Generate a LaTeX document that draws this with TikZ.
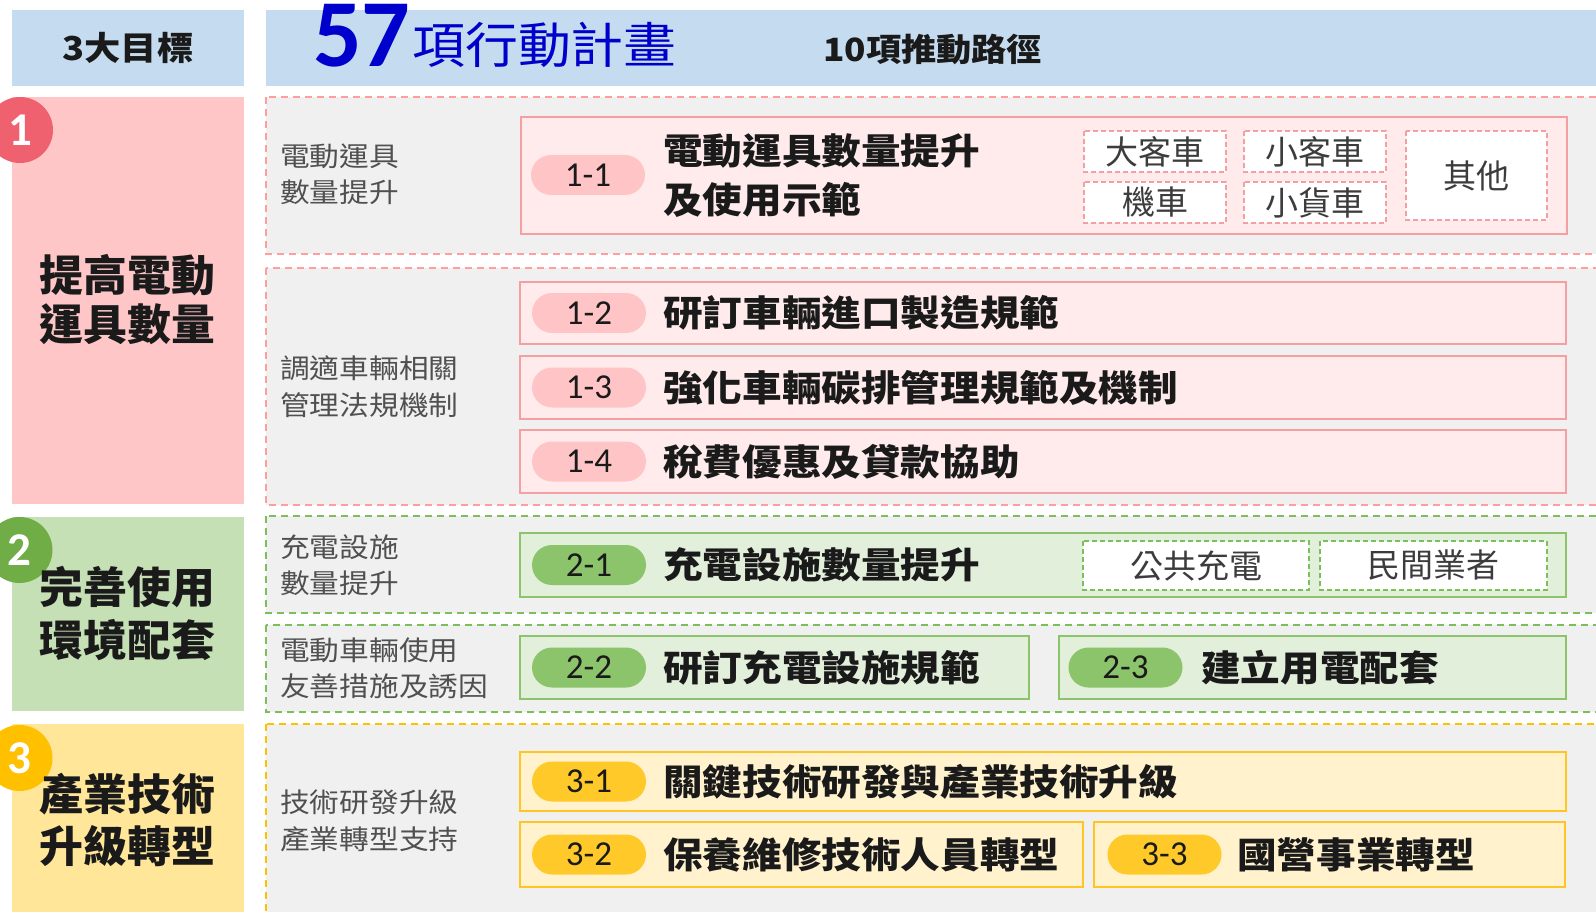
\documentclass[tikz,border=0pt]{standalone}
\usepackage{fontspec}
\setmainfont{Noto Sans CJK TC}
\newfontfamily\lblfont{Noto Sans CJK TC}[FakeStretch=1.1]
\newfontfamily\ttlfont{Noto Sans CJK TC}[FakeStretch=1.1]
\newfontfamily\hdrfont{Noto Sans CJK TC}[FakeStretch=1.1]
\newfontfamily\hdrlfont{Noto Sans CJK TC}[FakeStretch=1.08]
\newfontfamily\goalfont{Noto Sans CJK TC}[FakeStretch=1.02]
\newfontfamily\subfont{Noto Sans CJK TC}
\newfontfamily\bignum{Carlito}
\definecolor{hdrbg}{HTML}{C5DCF0}
\definecolor{pinkgoal}{HTML}{FFC6C8}
\definecolor{pinkcirc}{HTML}{F0616F}
\definecolor{pinkdash}{HTML}{FF9E9E}
\definecolor{pinkin}{HTML}{FFEBEC}
\definecolor{pinkbord}{HTML}{F4A0A2}
\definecolor{pinkpill}{HTML}{FFC5C6}
\definecolor{greengoal}{HTML}{C5E0B4}
\definecolor{greencirc}{HTML}{70AD47}
\definecolor{greendash}{HTML}{7CBF5A}
\definecolor{greenin}{HTML}{E2EFDA}
\definecolor{greenbord}{HTML}{8CC46C}
\definecolor{greenpill}{HTML}{8CC46B}
\definecolor{yelgoal}{HTML}{FFE699}
\definecolor{yelcirc}{HTML}{FFC000}
\definecolor{yeldash}{HTML}{FFC000}
\definecolor{yelin}{HTML}{FFF2CC}
\definecolor{yelbord}{HTML}{FFC525}
\definecolor{yelpill}{HTML}{FFC929}
\definecolor{grayfill}{HTML}{F0F0F0}
\definecolor{labgray}{HTML}{505050}
\definecolor{bluett}{HTML}{0000CC}
\definecolor{txt}{HTML}{1A1A1A}
\tikzset{
  grp/.style={fill=grayfill, dash pattern=on 7pt off 5pt, line width=2pt},
  ibox/.style={line width=2pt},
  subbox/.style={fill=white, dash pattern=on 5pt off 3pt, line width=1.6pt},
  lab/.style={inner sep=0, anchor=west, text=labgray, font=\lblfont\fontsize{27}{27}\selectfont},
  ttl/.style={inner sep=0, anchor=west, text=txt, font=\ttlfont\bfseries\fontsize{36}{36}\selectfont},
  goal/.style={inner sep=0, text=txt, font=\goalfont\bfseries\fontsize{43}{43}\selectfont},
  pill/.style={rounded corners=20pt, minimum width=114pt, minimum height=40pt, inner sep=0, text=txt, font=\bignum\fontsize{35}{35}\selectfont},
  subt/.style={inner sep=0, text=txt!85, font=\subfont\fontsize{33}{33}\selectfont},
  numc/.style={circle, minimum size=66pt, inner sep=0, text=white, font=\bignum\bfseries\fontsize{47}{47}\selectfont}
}
\begin{document}
\begin{tikzpicture}[x=1pt,y=-1pt]
\useasboundingbox (0,0) rectangle (1596,912);
\clip (0,0) rectangle (1596,912);
% header
\fill[hdrbg] (12,10) rectangle (244,86);
\fill[hdrbg] (266,10) rectangle (1620,86);
\node[inner sep=0, text=txt, font=\hdrfont\bfseries\fontsize{33}{33}\selectfont] (h1) at (128,47.5) {3大目標};
\node[anchor=base west, inner sep=0, text=bluett, font=\bignum\bfseries\fontsize{96}{96}\selectfont] (h57) at (313,67) {57};
\node[anchor=west, inner sep=0, text=bluett, font=\hdrlfont\fontsize{49}{49}\selectfont] (h2) at (412,44.5) {項行動計畫};
\node[anchor=west, inner sep=0, text=txt, font=\hdrfont\bfseries\fontsize{32}{32}\selectfont] (h3) at (823,49) {10項推動路徑};
% goals
\fill[pinkgoal] (12,97) rectangle (244,504);
\fill[greengoal] (12,517) rectangle (244,711);
\fill[yelgoal] (12,724) rectangle (244,930);
\node[numc, fill=pinkcirc] (c1) at (20,130) {1};
\node[numc, fill=greencirc] (c2) at (19.5,550) {2};
\node[numc, fill=yelcirc] (c3) at (19.5,758) {3};
\node[goal] (g1a) at (127.5,275) {提高電動};
\node[goal] (g1b) at (127.5,324) {運具數量};
\node[goal] (g2a) at (127.5,587) {完善使用};
\node[goal] (g2b) at (127.5,640) {環境配套};
\node[goal] (g3a) at (127.5,794) {產業技術};
\node[goal] (g3b) at (127.5,846) {升級轉型};
% groups
\draw[grp, draw=pinkdash] (266,97) rectangle (1620,254);
\draw[grp, draw=pinkdash] (266,268) rectangle (1620,505);
\draw[grp, draw=greendash] (266,516) rectangle (1620,613);
\draw[grp, draw=greendash] (266,625) rectangle (1620,712);
\draw[grp, draw=yeldash] (266,724) rectangle (1620,940);
\node[lab] (l1a) at (280,156) {電動運具};
\node[lab] (l1b) at (280,192) {數量提升};
\node[lab] (l2a) at (280,368) {調適車輛相關};
\node[lab] (l2b) at (280,405) {管理法規機制};
\node[lab] (l3a) at (280,547) {充電設施};
\node[lab] (l3b) at (280,583) {數量提升};
\node[lab] (l4a) at (280,650) {電動車輛使用};
\node[lab] (l4b) at (280,686) {友善措施及誘因};
\node[lab] (l5a) at (280,802) {技術研發升級};
\node[lab] (l5b) at (280,839) {產業轉型支持};
% pink items
\draw[ibox, draw=pinkbord, fill=pinkin] (521,117) rectangle (1567,234);
\node[pill, fill=pinkpill] (p11) at (588,175) {1-1};
\node[ttl] (t11a) at (663,151) {電動運具數量提升};
\node[ttl] (t11b) at (663,200) {及使用示範};
\draw[subbox, draw=pinkbord] (1084,131) rectangle (1226,172);
\draw[subbox, draw=pinkbord] (1244,131) rectangle (1386,172);
\draw[subbox, draw=pinkbord] (1084,182) rectangle (1226,223);
\draw[subbox, draw=pinkbord] (1244,182) rectangle (1386,223);
\draw[subbox, draw=pinkbord] (1406,131) rectangle (1547,220);
\node[subt] (s1) at (1155,151.5) {大客車};
\node[subt] (s2) at (1315,151.5) {小客車};
\node[subt] (s3) at (1155,202.5) {機車};
\node[subt] (s4) at (1315,202.5) {小貨車};
\node[subt] (s5) at (1476.5,175.5) {其他};
\draw[ibox, draw=pinkbord, fill=pinkin] (520,282) rectangle (1566,344);
\node[pill, fill=pinkpill] (p12) at (589,313) {1-2};
\node[ttl] (t12) at (663,313) {研訂車輛進口製造規範};
\draw[ibox, draw=pinkbord, fill=pinkin] (520,356) rectangle (1566,419);
\node[pill, fill=pinkpill] (p13) at (589,387.5) {1-3};
\node[ttl] (t13) at (663,387.5) {強化車輛碳排管理規範及機制};
\draw[ibox, draw=pinkbord, fill=pinkin] (520,430) rectangle (1566,493);
\node[pill, fill=pinkpill] (p14) at (589,461.5) {1-4};
\node[ttl] (t14) at (663,461.5) {稅費優惠及貸款協助};
% green items
\draw[ibox, draw=greenbord, fill=greenin] (520,533) rectangle (1566,597);
\node[pill, fill=greenpill] (p21) at (589,565) {2-1};
\node[ttl] (t21) at (663,565) {充電設施數量提升};
\draw[subbox, draw=greendash] (1083,541) rectangle (1309,590);
\draw[subbox, draw=greendash] (1320,541) rectangle (1547,590);
\node[subt] (s6) at (1196,565.5) {公共充電};
\node[subt] (s7) at (1433.5,565.5) {民間業者};
\draw[ibox, draw=greenbord, fill=greenin] (520,636) rectangle (1029,699);
\node[pill, fill=greenpill] (p22) at (589,667.5) {2-2};
\node[ttl] (t22) at (663,667.5) {研訂充電設施規範};
\draw[ibox, draw=greenbord, fill=greenin] (1059,636) rectangle (1566,699);
\node[pill, fill=greenpill] (p23) at (1125.5,667.5) {2-3};
\node[ttl] (t23) at (1201,667.5) {建立用電配套};
% yellow items
\draw[ibox, draw=yelbord, fill=yelin] (520,752) rectangle (1566,811);
\node[pill, fill=yelpill] (p31) at (589,781.5) {3-1};
\node[ttl] (t31) at (663,781.5) {關鍵技術研發與產業技術升級};
\draw[ibox, draw=yelbord, fill=yelin] (520,822) rectangle (1083,887);
\node[pill, fill=yelpill] (p32) at (589,854.5) {3-2};
\node[ttl] (t32) at (663,854.5) {保養維修技術人員轉型};
\draw[ibox, draw=yelbord, fill=yelin] (1094,822) rectangle (1565,887);
\node[pill, fill=yelpill] (p33) at (1164.5,854.5) {3-3};
\node[ttl] (t33) at (1237,854.5) {國營事業轉型};
\end{tikzpicture}
\end{document}
